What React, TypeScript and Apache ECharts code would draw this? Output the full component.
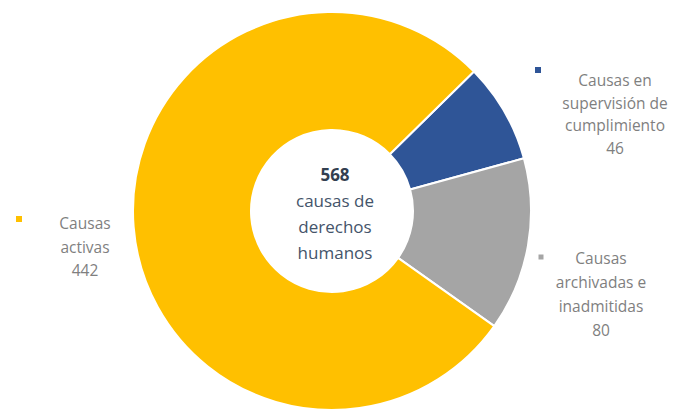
import React, { useEffect, useRef } from "react";
import * as echarts from "echarts";

const categories = ["Causas en\nsupervisión de\ncumplimiento", "Causas\narchivadas e\ninadmitidas", "Causas\nactivas"];
const values = [46, 80, 442];
const colors = ["#2F5597", "#A5A5A5", "#FFC000"];
const centerTitle = "568";
const centerSubtitle = "causas de\nderechos\nhumanos";

// label layout (text centre x, first line y, line height, marker x, marker y, marker size)
const labelLayout = [
  { x: 615, y: 80, lh: 22.7, mx: 538, my: 70, ms: 6 },
  { x: 601, y: 258, lh: 24, mx: 541, my: 257, ms: 5 },
  { x: 85, y: 223, lh: 23.5, mx: 19, my: 219, ms: 6 },
];

export default function App() {
  const ref = useRef<HTMLDivElement>(null);
  useEffect(() => {
    document.body.style.margin = "0";
    const chart = echarts.init(ref.current!, null, { renderer: "svg" });
    const graphics: any[] = [];
    categories.forEach((c, i) => {
      const L = labelLayout[i];
      const lines = (c + "\n" + values[i]).split("\n");
      graphics.push({
        type: "rect",
        shape: { x: L.mx - L.ms / 2, y: L.my - L.ms / 2, width: L.ms, height: L.ms },
        style: { fill: colors[i] },
      });
      lines.forEach((ln, j) => {
        graphics.push({
          type: "text",
          x: L.x,
          y: L.y + j * L.lh,
          style: {
            text: ln,
            fill: "#7F7F7F",
            font: "15.5px 'Open Sans', sans-serif",
            textAlign: "center",
            textVerticalAlign: "middle",
          },
        });
      });
    });
    graphics.push({
      type: "text",
      x: 335,
      y: 174,
      style: {
        text: centerTitle,
        fill: "#333F50",
        font: "bold 17px 'Open Sans', sans-serif",
        textAlign: "center",
        textVerticalAlign: "middle",
      },
    });
    centerSubtitle.split("\n").forEach((ln, j) => {
      graphics.push({
        type: "text",
        x: 335,
        y: 200 + j * 26,
        style: {
          text: ln,
          fill: "#44546A",
          font: "17px 'Open Sans', sans-serif",
          textAlign: "center",
          textVerticalAlign: "middle",
        },
      });
    });
    chart.setOption({
      animation: false,
      backgroundColor: "#ffffff",
      series: [
        {
          type: "pie",
          center: [332, 211],
          radius: [81, 199],
          startAngle: 44.5,
          clockwise: true,
          label: { show: false },
          labelLine: { show: false },
          emphasis: { disabled: true },
          itemStyle: { borderColor: "#ffffff", borderWidth: 2 },
          data: values.map((v, i) => ({
            value: v,
            name: categories[i].replace(/\n/g, " "),
            itemStyle: { color: colors[i] },
          })),
        },
      ],
      graphic: graphics,
    });
    return () => chart.dispose();
  }, []);
  return <div ref={ref} style={{ width: 673, height: 412 }} />;
}
